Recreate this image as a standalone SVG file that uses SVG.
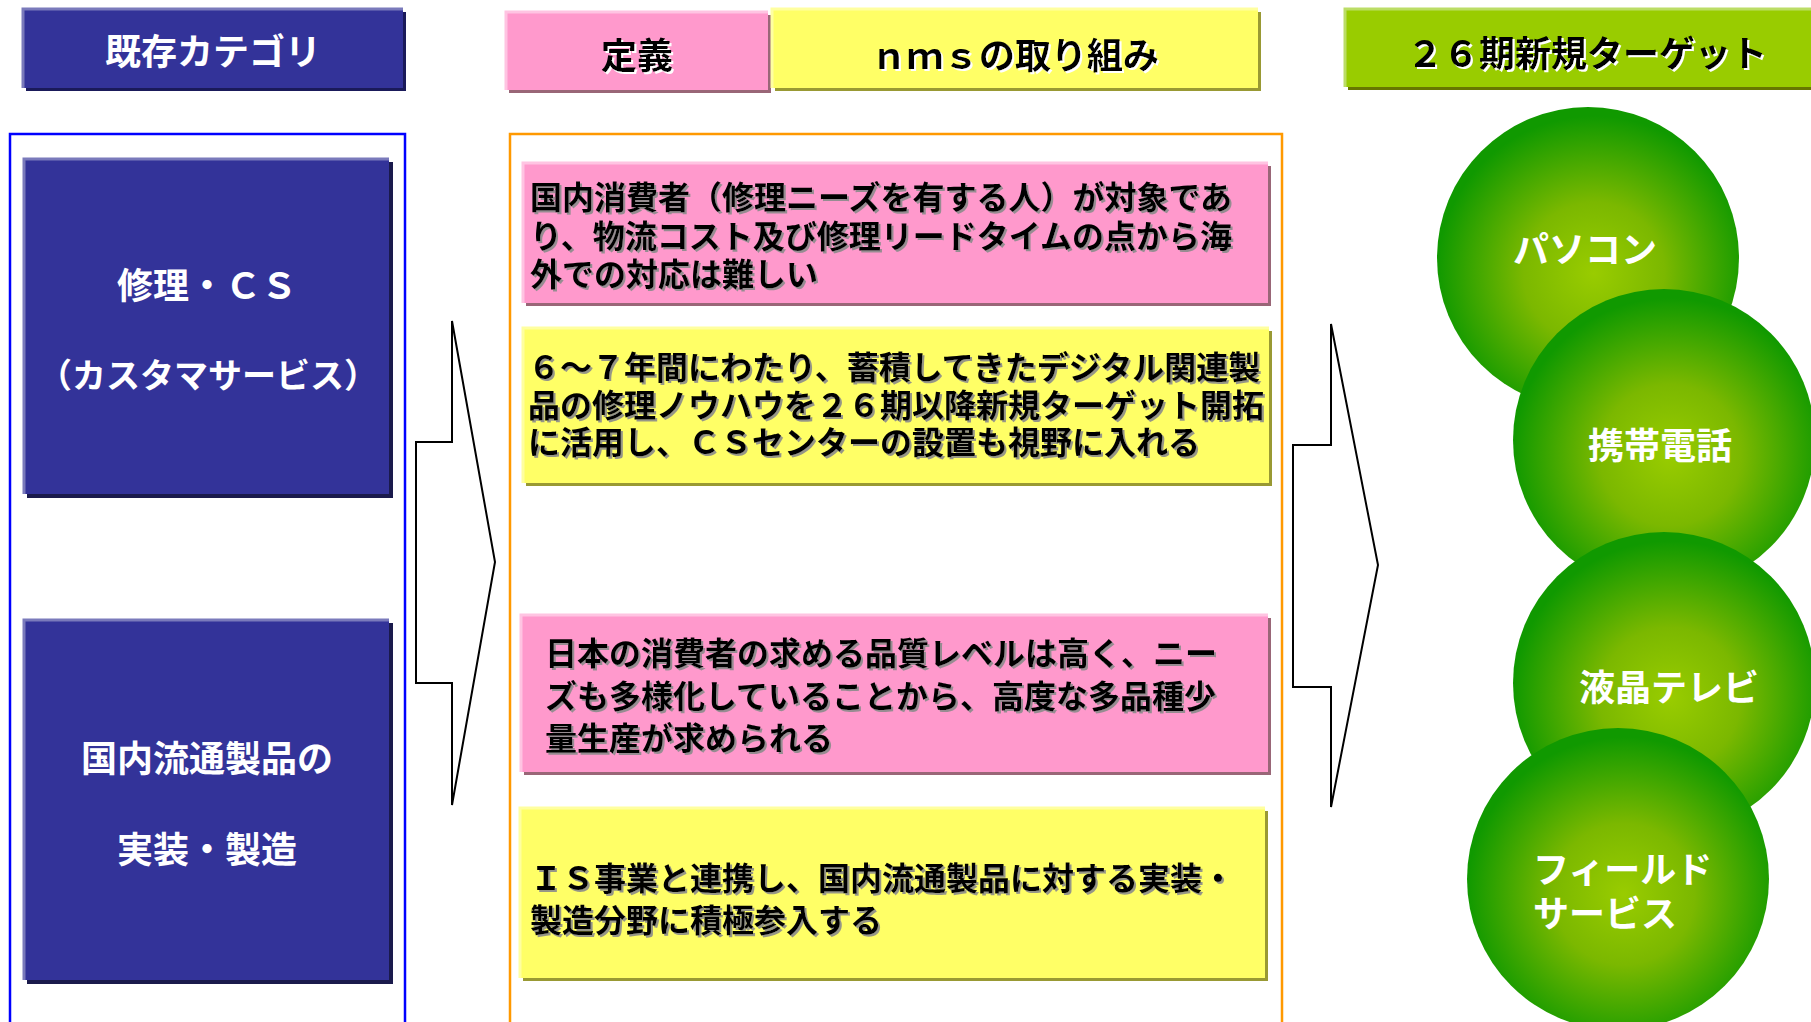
<svg xmlns="http://www.w3.org/2000/svg" width="1811" height="1022" viewBox="0 0 1811 1022">
<defs>
<radialGradient id="ball" cx="0.52" cy="0.55" r="0.52">
<stop offset="0" stop-color="#99cc00"/>
<stop offset="0.45" stop-color="#7bb800"/>
<stop offset="1" stop-color="#109900"/>
</radialGradient>
<filter id="shWhite" x="-5%" y="-20%" width="110%" height="140%">
<feDropShadow dx="2" dy="2" stdDeviation="0" flood-color="#ffffff" flood-opacity="1"/>
</filter>
<filter id="shGray" x="-5%" y="-20%" width="110%" height="140%">
<feDropShadow dx="2" dy="2" stdDeviation="0.3" flood-color="#8a8a8a" flood-opacity="0.9"/>
</filter>
</defs>
<style>
text{font-family:"Noto Sans CJK JP","Noto Sans CJK SC",sans-serif;font-weight:bold}
.hdr{font-size:36px;text-anchor:middle}
.wt{fill:#ffffff}
.bk{fill:#000000}
.para{font-family:"Liberation Sans","Noto Sans CJK JP","Noto Sans CJK SC",sans-serif;font-size:32px;fill:#000000}
.lbl{font-size:36px;fill:#ffffff}
.tight{font-family:"Liberation Sans","Noto Sans CJK JP","Noto Sans CJK SC",sans-serif}
.arrow{fill:#ffffff;stroke:#000000;stroke-width:2;stroke-linejoin:miter}
</style>
<rect width="1811" height="1022" fill="#ffffff"/>

<!-- header: existing category -->
<g id="hdr-category">
<rect x="26" y="12" width="380" height="79" fill="#1a1a5a"/>
<rect x="23" y="9" width="380" height="79" fill="#333399"/>
<path d="M23 88 V9 H403" fill="none" stroke="#7a7abb" stroke-width="3"/>
<text class="hdr wt" x="213" y="65">既存カテゴリ</text>
</g>

<!-- header: definition -->
<g id="hdr-definition">
<rect x="509" y="15" width="262" height="78" fill="#996677"/>
<rect x="506" y="12" width="262" height="78" fill="#ff99cc"/>
<path d="M506 90 V12 H768" fill="none" stroke="#ffc4e2" stroke-width="3"/>
<text class="hdr bk" x="637" y="69" filter="url(#shWhite)">定義</text>
</g>

<!-- header: nms -->
<g id="hdr-nms">
<rect x="775" y="12" width="486" height="79" fill="#999933"/>
<rect x="772" y="9" width="486" height="79" fill="#ffff66"/>
<path d="M772 88 V9 H1258" fill="none" stroke="#ffffa0" stroke-width="3"/>
<text class="hdr bk" x="1015" y="69" filter="url(#shWhite)">ｎｍｓの取り組み</text>
</g>

<!-- header: 26th target -->
<g id="hdr-target">
<rect x="1348" y="12" width="470" height="78" fill="#667700"/>
<rect x="1345" y="9" width="470" height="78" fill="#99cc00"/>
<path d="M1345 87 V9 H1815" fill="none" stroke="#bbdd66" stroke-width="3"/>
<text class="hdr bk" x="1587" y="67" filter="url(#shWhite)">２６期新規ターゲット</text>
</g>

<!-- frames -->
<g id="frame-left">
<rect x="10" y="134" width="395" height="900" fill="none" stroke="#0000ff" stroke-width="2.5"/>
</g>
<g id="frame-mid">
<rect x="510" y="134" width="772" height="900" fill="none" stroke="#ff9900" stroke-width="2.5"/>
</g>

<!-- left category boxes -->
<g id="cat-repair">
<rect x="27" y="162" width="366" height="336" fill="#1a1a4c"/>
<rect x="23" y="158" width="366" height="336" fill="#333399"/>
<path d="M24 494 V159 H389" fill="none" stroke="#7a7abb" stroke-width="3"/>
<text class="lbl" text-anchor="middle"><tspan x="207" y="299">修理・ＣＳ</tspan><tspan x="208" y="388" font-size="34">（カスタマサービス）</tspan></text>
</g>
<g id="cat-domestic">
<rect x="27" y="623" width="366" height="361" fill="#1a1a4c"/>
<rect x="23" y="619" width="366" height="361" fill="#333399"/>
<path d="M24 980 V620 H389" fill="none" stroke="#7a7abb" stroke-width="3"/>
<text class="lbl" text-anchor="middle"><tspan x="207" y="772">国内流通製品の</tspan><tspan x="207" y="863">実装・製造</tspan></text>
</g>

<!-- middle definition / initiative boxes -->
<g id="def-repair">
<rect x="526" y="166" width="745" height="140" fill="#996677"/>
<rect x="523" y="163" width="745" height="140" fill="#ff99cc"/>
<path d="M523 303 V163 H1268" fill="none" stroke="#ffc4e2" stroke-width="3"/>
<text class="para" filter="url(#shGray)"><tspan x="530" y="209">国内消費者（修理ニーズを有する人）が対象であ</tspan><tspan x="530" y="247.5">り、物流コスト及び修理リードタイムの点から海</tspan><tspan x="530" y="286">外での対応は難しい</tspan></text>
</g>
<g id="nms-repair">
<rect x="526" y="331" width="746" height="155" fill="#999933"/>
<rect x="523" y="328" width="746" height="155" fill="#ffff66"/>
<path d="M523 483 V328 H1269" fill="none" stroke="#ffffa0" stroke-width="3"/>
<text class="para" filter="url(#shGray)"><tspan x="528" y="379">６～７年間にわたり、蓄積してきたデジタル関連製</tspan><tspan x="528" y="416.5">品の修理ノウハウを２６期以降新規ターゲット開拓</tspan><tspan x="528" y="454">に活用し、ＣＳセンターの設置も視野に入れる</tspan></text>
</g>
<g id="def-domestic">
<rect x="524" y="618" width="747" height="157" fill="#996677"/>
<rect x="521" y="615" width="747" height="157" fill="#ff99cc"/>
<path d="M521 772 V615 H1268" fill="none" stroke="#ffc4e2" stroke-width="3"/>
<text class="para" filter="url(#shGray)"><tspan x="545" y="665">日本の消費者の求める品質レベルは高く、ニー</tspan><tspan x="545" y="708">ズも多様化していることから、高度な多品種少</tspan><tspan x="545" y="750">量生産が求められる</tspan></text>
</g>
<g id="nms-domestic">
<rect x="523" y="811" width="745" height="170" fill="#999933"/>
<rect x="520" y="808" width="745" height="170" fill="#ffff66"/>
<path d="M520 978 V808 H1265" fill="none" stroke="#ffffa0" stroke-width="3"/>
<text class="para" filter="url(#shGray)"><tspan x="530" y="890">ＩＳ事業と連携し、国内流通製品に対する実装・</tspan><tspan x="530" y="932">製造分野に積極参入する</tspan></text>
</g>

<!-- target circles -->
<g id="target-pc">
<circle cx="1588" cy="258" r="151" fill="url(#ball)"/>
<text class="lbl" x="1585" y="263" text-anchor="middle">パソコン</text>
</g>
<g id="target-mobile">
<circle cx="1664" cy="440" r="151" fill="url(#ball)"/>
<text class="lbl" x="1660" y="459" text-anchor="middle">携帯電話</text>
</g>
<g id="target-lcd">
<circle cx="1664" cy="683" r="151" fill="url(#ball)"/>
<text class="lbl" x="1669" y="701" text-anchor="middle">液晶テレビ</text>
</g>
<g id="target-field">
<circle cx="1618" cy="879" r="151" fill="url(#ball)"/>
<text class="lbl tight"><tspan x="1533" y="883">フィールド</tspan><tspan x="1533" y="927">サービス</tspan></text>
</g>

<!-- connectors: block arrows -->
<g id="connectors">
<path class="arrow" d="M452 321 L495 562 L452 805 L452 683 L416 683 L416 442 L452 442 Z"/>
<path class="arrow" d="M1331 324 L1378 565 L1331 807 L1331 687 L1293 687 L1293 445 L1331 445 Z"/>
</g>
</svg>
